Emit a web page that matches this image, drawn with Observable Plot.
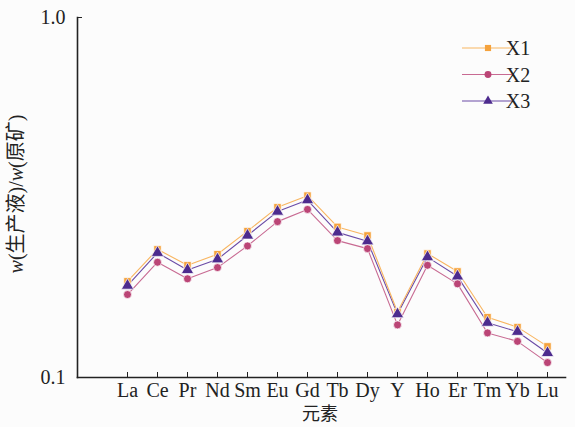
<!DOCTYPE html>
<html>
<head>
<meta charset="utf-8">
<script src="https://cdn.jsdelivr.net/npm/d3@7"></script>
<script src="https://cdn.jsdelivr.net/npm/@observablehq/plot@0.6"></script>
<style>
  html, body { margin: 0; padding: 0; background: #fcfcfc; }
  #wrap { position: relative; width: 575px; height: 427px; }
</style>
</head>
<body>
<div id="wrap"></div>
<script>
const elements = ["La","Ce","Pr","Nd","Sm","Eu","Gd","Tb","Dy","Y","Ho","Er","Tm","Yb","Lu"];
const X1 = [0.185,0.227,0.205,0.220,0.255,0.297,0.320,0.262,0.248,0.152,0.221,0.197,0.147,0.138,0.122];
const X2 = [0.170,0.209,0.188,0.202,0.232,0.271,0.293,0.240,0.228,0.140,0.205,0.182,0.133,0.126,0.110];
const X3 = [0.180,0.222,0.199,0.213,0.248,0.289,0.311,0.253,0.239,0.150,0.216,0.191,0.142,0.134,0.117];
const seriesNames = ["X1","X2","X3"];
const yTicks = [0.1, 1.0];

const serif = "Liberation Serif, Times New Roman, DejaVu Serif, serif";
const cjk = "Noto Sans CJK SC, sans-serif";
const styles = {
  X1: {line: "#f8b560", fill: "#f5a23c", symbol: "square", r: 4.2},
  X2: {line: "#c86a92", fill: "#bb4576", symbol: "circle", r: 4},
  X3: {line: "#6a4ba6", fill: "#4d2b8e", symbol: "triangle", r: 4.6}
};

const rows = [];
[X1, X2, X3].forEach((arr, s) => arr.forEach((v, i) => rows.push({series: seriesNames[s], el: elements[i], v})));

const marks = [
  Plot.frame({anchor: "left", stroke: "#222", strokeWidth: 1.6}),
  Plot.frame({anchor: "bottom", stroke: "#222", strokeWidth: 1.6}),
  Plot.axisX({ticks: elements, tickSize: -5, tickPadding: 10, fontSize: 20, fontFamily: serif, label: null, color: "#222", tickFormat: d => d}),
  Plot.axisY({ticks: yTicks, tickSize: -5, tickPadding: 17, tickFormat: d => d === 1 ? "1.0" : "0.1", fontSize: 20, fontFamily: serif, label: null, color: "#222"})
];
for (const s of ["X3","X2","X1"]) {
  const st = styles[s];
  const data = rows.filter(d => d.series === s);
  marks.push(Plot.line(data, {x: "el", y: "v", stroke: st.line, strokeWidth: 1.1}));
}
for (const s of ["X1","X3","X2"]) {
  const st = styles[s];
  const data = rows.filter(d => d.series === s);
  marks.push(Plot.dot(data, {x: "el", y: "v", symbol: () => st.symbol, fill: st.fill, stroke: "#fff", strokeWidth: 0.7, r: st.r}));
}

const chart = Plot.plot({
  width: 575,
  height: 427,
  marginLeft: 77,
  marginRight: 10,
  marginTop: 17,
  marginBottom: 50,
  style: {background: "transparent", fontSize: "20px", color: "#222", fontFamily: serif},
  x: {type: "point", domain: elements, range: [110, 563], axis: null},
  y: {type: "log", domain: [0.1, 1], axis: null},
  symbol: {type: "identity"},
  marks
});
document.getElementById("wrap").appendChild(chart);

// Axis titles
const svg = d3.select(chart);
svg.append("text")
  .attr("x", 320).attr("y", 420)
  .attr("text-anchor", "middle")
  .attr("font-size", 18).attr("fill", "#222")
  .attr("font-family", cjk)
  .text("元素");
const yl = svg.append("text")
  .attr("transform", "translate(23,194) rotate(-90)")
  .attr("text-anchor", "middle")
  .attr("font-size", 20).attr("fill", "#222")
  .attr("font-family", serif);
yl.append("tspan").attr("font-style", "italic").text("w");
yl.append("tspan").text("(");
yl.append("tspan").attr("font-family", cjk).text("生产液");
yl.append("tspan").text(")/");
yl.append("tspan").attr("font-style", "italic").text("w");
yl.append("tspan").text("(");
yl.append("tspan").attr("font-family", cjk).text("原矿");
yl.append("tspan").text(")");

// Legend
const lg = svg.append("g").attr("transform", "translate(462,48)");
seriesNames.forEach((s, i) => {
  const st = styles[s];
  const g = lg.append("g").attr("transform", `translate(0,${i * 26.5})`);
  g.append("line").attr("x1", 0).attr("x2", 52).attr("y1", 0).attr("y2", 0).attr("stroke", st.line).attr("stroke-width", 1.1);
  const sym = d3.symbol().type(st.symbol === "square" ? d3.symbolSquare : st.symbol === "circle" ? d3.symbolCircle : d3.symbolTriangle).size(st.symbol === "triangle" ? 40 : 38);
  g.append("path").attr("d", sym()).attr("transform", "translate(26,0)").attr("fill", st.fill);
  g.append("text").attr("x", 56).attr("y", 0).attr("dy", "0.35em").attr("font-size", 20).attr("fill", "#222").attr("font-family", serif).text(s);
});
</script>
</body>
</html>
